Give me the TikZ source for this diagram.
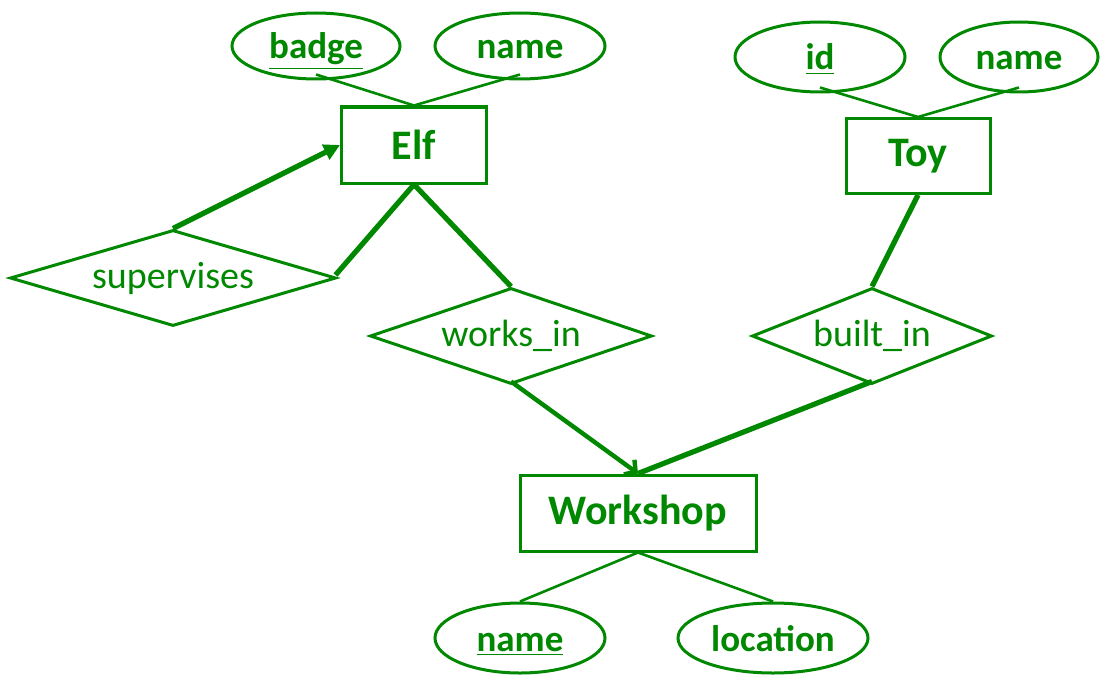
\documentclass[tikz,border=0pt]{standalone}
\usepackage{fontspec}
\setmainfont{Carlito}
\usepackage{tikz}
\usetikzlibrary{shapes.geometric, arrows.meta}
\definecolor{ergreen}{RGB}{0,136,0}
\tikzstyle{entity} = [draw=ergreen, line width=1.5pt, rectangle, inner sep=0pt, text=ergreen, font=\fontsize{21pt}{25pt}\selectfont\bfseries]
\tikzstyle{attr} = [draw=ergreen, line width=1.5pt, ellipse, inner sep=0pt, text height=17pt, text depth=4pt, text=ergreen, font=\fontsize{18.5pt}{22pt}\selectfont\bfseries]
\tikzstyle{rel} = [draw=ergreen, line width=1.5pt, diamond, aspect=3.4, inner sep=0pt, text=ergreen, font=\fontsize{19pt}{23pt}\selectfont]
\tikzstyle{link} = [draw=ergreen, line width=1.3pt]
\tikzstyle{heavy} = [draw=ergreen, line width=2.6pt]

\begin{document}
\begin{tikzpicture}[x=0.5pt, y=-0.5pt]
    \useasboundingbox (0,0) rectangle (1101,674);
    % entities
    \node[entity, minimum width=72.5pt, minimum height=38pt] (elf) at (414,145) {Elf};
    \node[entity, minimum width=72pt, minimum height=37.5pt] (toy) at (918,156) {Toy};
    \node[entity, minimum width=118pt, minimum height=38pt] (workshop) at (638,513) {Workshop};
    % attributes
    \node[attr, minimum width=84pt, minimum height=33pt] (badge) at (316,46) {\underline{badge}};
    \node[attr, minimum width=85pt, minimum height=33pt] (elfname) at (520,46) {name};
    \node[attr, minimum width=85pt, minimum height=35pt] (id) at (820,57) {\underline{id}};
    \node[attr, minimum width=79pt, minimum height=35pt] (toyname) at (1019,57) {name};
    \node[attr, minimum width=85pt, minimum height=35pt] (wsname) at (520,638) {\underline{name}};
    \node[attr, minimum width=95pt, minimum height=35pt] (location) at (773,638) {location};
    % relationships
    \node[rel, minimum width=163pt, minimum height=48pt] (supervises) at (173,278) {supervises};
    \node[rel, minimum width=141pt, minimum height=48pt] (worksin) at (511,336) {works\_in};
    \node[rel, minimum width=120pt, minimum height=48pt] (builtin) at (872,336) {built\_in};

    \draw[link] ([yshift=3pt]badge.south) -- (elf.north);
    \draw[link] ([yshift=3pt]elfname.south) -- (elf.north);
    \draw[link] ([yshift=3pt]id.south) -- (toy.north);
    \draw[link] ([yshift=3pt]toyname.south) -- (toy.north);
    \draw[link] (workshop.south) -- (wsname.north);
    \draw[link] (workshop.south) -- (location.north);

    \draw[heavy, -{Triangle[length=8pt, width=8pt]}] (supervises.north) -- (elf.west);
    \draw[heavy] ([shift={(-2,-3)}]supervises.east) -- (elf.south);
    \draw[heavy] (elf.south) -- (worksin.north);
    \draw[heavy] (toy.south) -- (builtin.north);
    \draw[heavy, line width=2.2pt, -{Straight Barb[length=4pt, width=9pt]}] ([yshift=2pt]worksin.south) -- (workshop.north);
    \draw[heavy] ([yshift=2pt]builtin.south) -- (workshop.north);
\end{tikzpicture}
\end{document}
